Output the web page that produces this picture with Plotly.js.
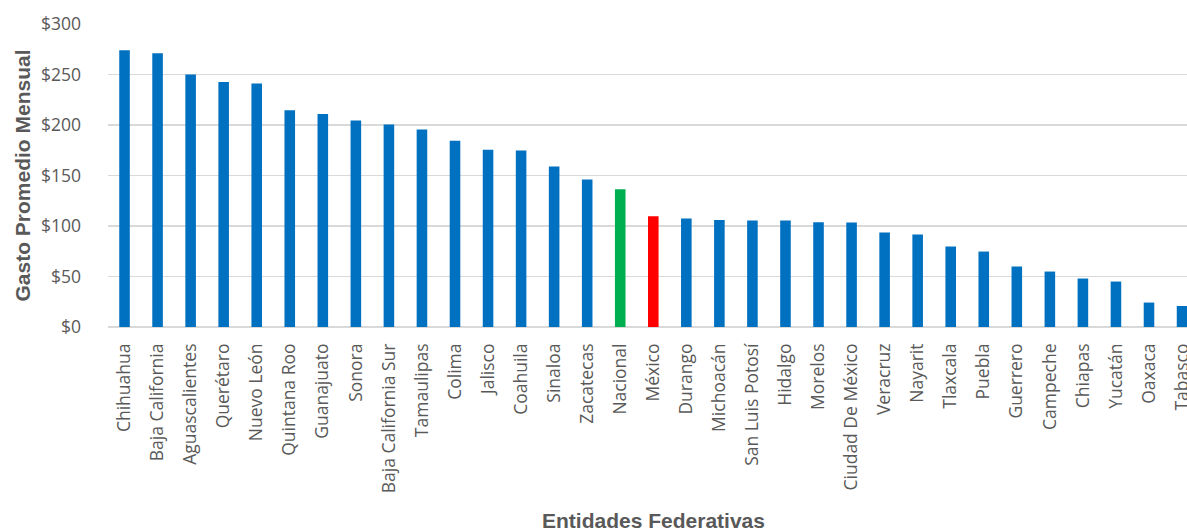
<!DOCTYPE html>
<html>
<head>
<meta charset="utf-8">
<script src="https://cdn.plot.ly/plotly-3.0.1.min.js"></script>
<style>html,body{margin:0;padding:0;background:#fff;}#chart{width:1187px;height:529px;}</style>
</head>
<body>
<div id="chart"></div>
<script>
const categories = ["Chihuahua","Baja California","Aguascalientes","Querétaro","Nuevo León","Quintana Roo","Guanajuato","Sonora","Baja California Sur","Tamaulipas","Colima","Jalisco","Coahuila","Sinaloa","Zacatecas","Nacional","México","Durango","Michoacán","San Luis Potosí","Hidalgo","Morelos","Ciudad De México","Veracruz","Nayarit","Tlaxcala","Puebla","Guerrero","Campeche","Chiapas","Yucatán","Oaxaca","Tabasco"];
const gastoPromedio = [274,271,250,242.5,241,214.5,211,204.5,200.6,195.6,184.3,175.4,174.8,159,146,136.5,109.7,107.4,106,105.4,105.4,103.8,103.5,93.5,91.5,79.7,74.7,59.9,54.9,48,45,24.2,20.8];
const yTickVals = [0,50,100,150,200,250,300];
const yTickText = ["$0","$50","$100","$150","$200","$250","$300"];
const highlightColors = {"Nacional":"#00B050","México":"#FF0000"};
const baseColor = "#0070C0";

const colors = categories.map(c => highlightColors[c] || baseColor);

const trace = {
  type: "bar",
  x: categories,
  y: gastoPromedio,
  marker: {color: colors, line: {width: 0}},
  hoverinfo: "x+y"
};

const gray = "#595959";
const layout = {
  width: 1187, height: 529,
  margin: {l: 108, r: 0, t: 24, b: 202, pad: 0},
  paper_bgcolor: "#fff", plot_bgcolor: "#fff",
  bargap: 0.68,
  showlegend: false,
  xaxis: {
    type: "category",
    range: [-0.5, 32.15],
    tickangle: -90,
    ticks: "",
    showgrid: false,
    showline: false,
    zeroline: false,
    automargin: false,
    ticklabelstandoff: 12,
    tickfont: {family: "Open Sans", size: 17.5, color: gray}
  },
  yaxis: {
    range: [0, 300],
    tickvals: yTickVals,
    ticktext: yTickText,
    ticks: "",
    showgrid: true,
    gridcolor: "#D9D9D9",
    gridwidth: 1.5,
    zeroline: true,
    zerolinecolor: "#D9D9D9",
    zerolinewidth: 1.5,
    showline: false,
    automargin: false,
    ticklabelstandoff: 26,
    tickfont: {family: "Open Sans", size: 17.5, color: gray}
  },
  annotations: [
    {text: "Gasto Promedio Mensual", xref: "paper", yref: "paper", x: -0.0797, y: 0.5,
     xanchor: "center", yanchor: "middle", textangle: -90, showarrow: false,
     font: {family: "Liberation Sans, Arial, sans-serif", size: 21, color: gray, weight: "bold"}},
    {text: "Entidades Federativas", xref: "paper", yref: "paper", x: 0.5056, y: -0.64,
     xanchor: "center", yanchor: "middle", showarrow: false,
     font: {family: "Liberation Sans, Arial, sans-serif", size: 21, color: gray, weight: "bold"}}
  ]
};

Plotly.newPlot("chart", [trace], layout, {displayModeBar: false, staticPlot: true});
</script>
</body>
</html>
